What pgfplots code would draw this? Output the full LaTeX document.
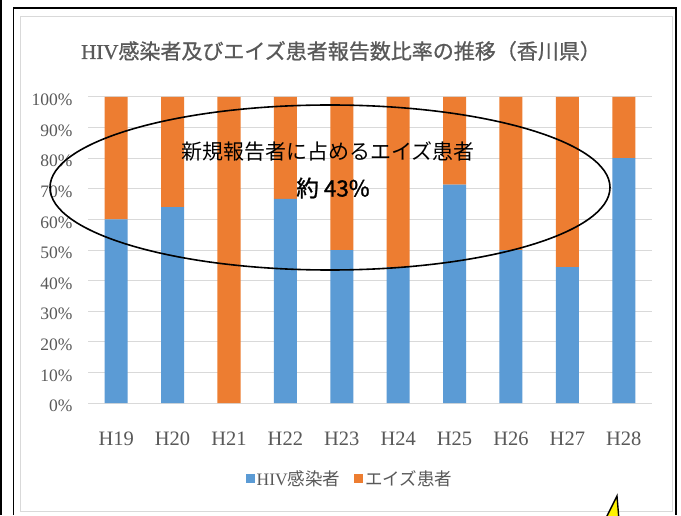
\documentclass[border=0pt]{standalone}
\usepackage{fontspec}
\usepackage{pgfplots}
\pgfplotsset{compat=1.18}
\setmainfont{Liberation Serif}
\newfontfamily\cjk{Noto Sans CJK JP}
\newfontfamily\cjkb[FakeBold=1.2]{Noto Sans CJK JP}
\newfontfamily\cjkt[FakeBold=0.8]{Noto Sans CJK JP}
\newfontfamily\serift[FakeBold=0.8]{Liberation Serif}
\definecolor{cblue}{HTML}{5B9BD5}
\definecolor{corange}{HTML}{ED7D31}
\definecolor{txtgray}{HTML}{595959}
\definecolor{gridgray}{HTML}{D9D9D9}
\begin{document}
\begin{tikzpicture}[x=1pt,y=1pt]
\useasboundingbox (0,0) rectangle (681,515);
\clip (0,0) rectangle (681,515);
\fill[white] (0,0) rectangle (681,515);
% chart area border
\draw[gridgray, line width=1pt] (20,4) rectangle (672,498);
\begin{axis}[
  at={(88pt,112pt)}, anchor=south west,
  scale only axis, width=564pt, height=306pt,
  ybar stacked, bar width=23pt,
  xmin=-0.5, xmax=9.5, ymin=0, ymax=100,
  xtick={0,...,9},
  xticklabels={H19,H20,H21,H22,H23,H24,H25,H26,H27,H28},
  ytick={0,10,...,100},
  yticklabels={0\%,10\%,20\%,30\%,40\%,50\%,60\%,70\%,80\%,90\%,100\%},
  major tick length=0pt,
  ymajorgrids, grid style={gridgray, line width=1pt},
  axis x line*=bottom, axis y line*=left,
  x axis line style={gridgray, line width=1pt, -},
  y axis line style={draw=none},
  yticklabel style={font=\fontsize{17.5}{17.5}\selectfont, text=txtgray, anchor=east, xshift=-12pt, yshift=-3pt},
  xticklabel style={font=\fontsize{20.5}{20.5}\selectfont, text=txtgray, yshift=-25pt},
  legend style={at={(0.4645,-0.248)}, anchor=center, draw=none, fill=none,
    legend columns=2, font=\fontsize{17.5}{17.5}\selectfont, text=txtgray,
    /tikz/every even column/.append style={column sep=12pt}},
  legend image code/.code={\fill[#1] (0pt,-4.5pt) rectangle (9pt,4.5pt);},
]
\addplot[fill=cblue, draw=none] coordinates {(0,60) (1,64) (2,0) (3,66.7) (4,50) (5,44.4) (6,71.4) (7,50) (8,44.4) (9,80)};
\addplot[fill=corange, draw=none] coordinates {(0,40) (1,36) (2,100) (3,33.3) (4,50) (5,55.6) (6,28.6) (7,50) (8,55.6) (9,20)};
\legend{HIV{\cjk 感染者},{\cjk エイズ患者}}
\end{axis}
% title
\node[text=txtgray, font=\fontsize{21}{21}\selectfont] at (341,464) {{\serift HIV}{\cjkt 感染者及びエイズ患者報告数比率の推移（香川県）}};
% annotation
\draw[black, line width=1.6pt] (330,327.5) ellipse [x radius=280, y radius=82.5];
\node[font=\fontsize{21}{21}\selectfont\cjk] at (328,363) {新規報告者に占めるエイズ患者};
\node[font=\fontsize{22.5}{22.5}\selectfont\cjkb] at (333,327) {約 43\%};
% outer frame lines
\draw[black, line width=1.6pt] (1,0) -- (1,515);
\draw[black, line width=1.6pt] (13.5,0) -- (13.5,507) -- (676,507) -- (676,0);
% yellow callout tip
\draw[black, line width=1.4pt, fill=yellow] (617,19) -- (605,-5) -- (619,-5) -- cycle;
\end{tikzpicture}
\end{document}
